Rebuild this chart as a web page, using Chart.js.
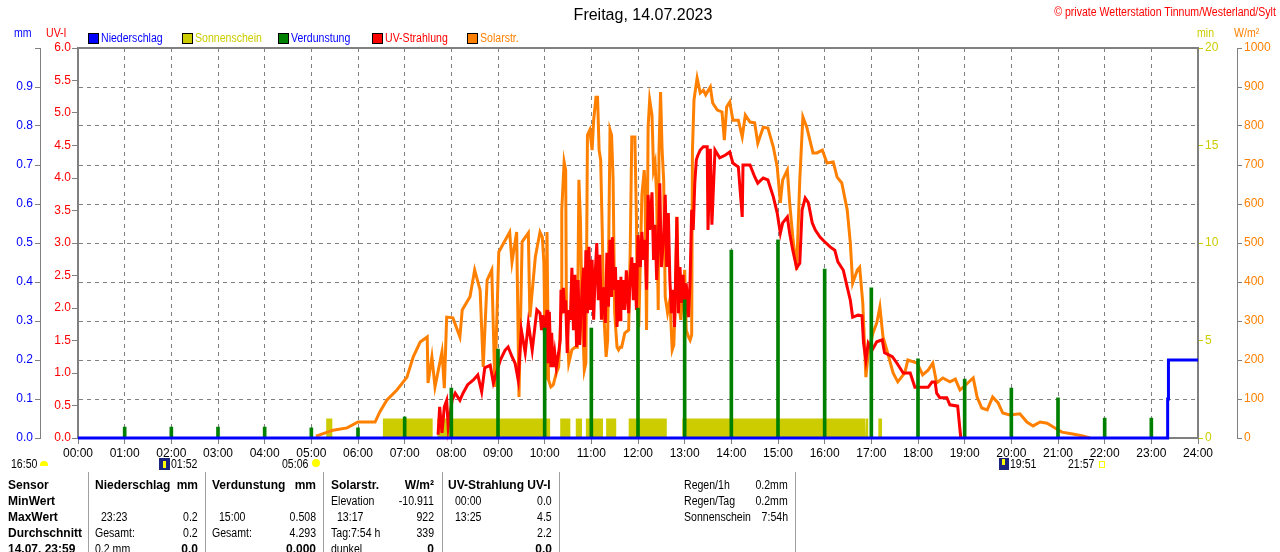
<!DOCTYPE html>
<html>
<head>
<meta charset="utf-8">
<script src="https://cdn.jsdelivr.net/npm/chart.js@4.4.0/dist/chart.umd.min.js"></script>
<style>
  html, body { margin: 0; padding: 0; background: #fff; }
  body { width: 1280px; height: 552px; position: relative; overflow: hidden;
         font-family: "Liberation Sans Narrow", "Arial Narrow", "Liberation Sans", Arial, sans-serif; }
  #c { position: absolute; left: 0; top: 0; }
  .t { position: absolute; white-space: nowrap; line-height: 1; font-size: 12px; }
</style>
</head>
<body>
<canvas id="c" width="1280" height="552"></canvas>
<div id="txt"></div>
<script>
// hour labels of the time axis
const hourLabels = ['00:00', '01:00', '02:00', '03:00', '04:00', '05:00', '06:00', '07:00', '08:00',
  '09:00', '10:00', '11:00', '12:00', '13:00', '14:00', '15:00', '16:00', '17:00', '18:00',
  '19:00', '20:00', '21:00', '22:00', '23:00', '24:00'];

// Solarstrahlung, minute of day -> W/m²
const solarMin = [306, 328, 346, 360, 382, 388, 397, 410, 423, 431,
  440, 449, 450, 455, 459, 468, 471, 474, 482, 491,
  494, 504, 510, 517, 521, 526, 532, 536, 541, 555,
  558, 564, 567, 571, 579, 581, 588,
  594, 597, 599, 601, 603, 605, 608, 611, 615, 618,
  621, 622, 625, 627, 628, 631, 635, 639, 642, 644,
  646, 648, 651, 653, 655, 658, 661, 663, 666, 668,
  670, 672, 674, 676, 679, 681, 684, 686, 688, 690,
  693, 695, 697, 699, 703, 708, 710, 712, 716, 718,
  719, 721, 725, 728, 729, 731, 733, 735, 738, 740,
  742, 744, 746, 747, 749, 751, 753, 755, 758, 761,
  764, 766, 768, 770, 772, 775, 778, 780, 782, 785,
  787, 789, 790, 792, 796, 800,
  804, 807, 813, 816, 822, 828, 831,
  834, 838, 842, 849, 854, 858, 864, 870, 874, 881,
  887, 894, 899, 903, 906, 912, 915, 919, 924, 928,
  932, 937, 941, 945, 950, 957, 963, 971, 976, 982,
  989, 993, 996, 1002, 1005, 1009, 1013, 1016, 1022, 1027,
  1031, 1035, 1041, 1048, 1054, 1063, 1067, 1079, 1086, 1093,
  1099, 1104, 1112, 1121, 1128, 1134, 1144, 1151, 1156, 1162,
  1169, 1176, 1183, 1189, 1198, 1211, 1220, 1228, 1237, 1246,
  1254, 1265, 1279, 1292, 1301];
const solarWm2 = [5, 20, 26, 41, 41, 67, 97, 123, 156, 208,
  246, 259, 141, 208, 131, 221, 128, 310, 308, 259,
  328, 362, 431, 379, 182, 405, 431, 131, 477, 528,
  451, 528, 105, 503, 526, 310, 464,
  528, 515, 449, 149, 528, 149, 131, 136, 167, 182,
  321, 585, 708, 687, 321, 192, 226, 233, 233, 662,
  559, 328, 174, 192, 777, 790, 738, 815, 874, 874,
  738, 713, 533, 321, 208, 251, 790, 777, 662, 321,
  233, 226, 233, 233, 269, 277, 482, 772, 772, 559,
  336, 285, 623, 687, 649, 277, 797, 867, 828, 687,
  705, 618, 328, 738, 887, 738, 662, 362, 321, 354,
  226, 238, 354, 567, 354, 303, 379, 431, 277, 259,
  251, 264, 738, 867, 923, 885,
  892, 880, 900, 859, 841, 836, 764,
  849, 862, 815, 815, 772, 828, 810, 808, 756, 797,
  795, 746, 695, 603, 662, 687, 603, 515, 431, 662,
  823, 797, 764, 731, 731, 738, 705, 708, 669, 654,
  585, 500, 397, 431, 438, 346, 156, 218, 269, 295,
  336, 259, 218, 167, 144, 167, 200, 192, 162, 174,
  192, 141, 154, 144, 151, 123, 141, 154, 105, 77,
  72, 105, 90, 64, 59, 62, 41, 31, 41, 38,
  28, 15, 10, 5, 0];

// UV-Strahlung, minute of day -> UV-I
const uvMin = [463, 465, 468, 471, 474, 476, 481, 485, 491, 495,
  501, 508, 514, 519, 523, 530, 534, 543, 549, 553,
  558, 562, 566, 570, 575, 579, 584, 590,
  594, 596, 598, 600, 603, 604, 606, 608, 609, 611,
  613, 615, 618, 620, 621, 623, 624, 626, 627, 629,
  631, 633, 635, 637, 639, 641, 643, 645, 648, 650,
  651, 653, 655, 657, 659, 661, 663, 665, 667, 669,
  671, 673, 675, 678, 680, 682, 684, 686, 687, 689,
  691, 693, 695, 697,
  698, 699, 701, 703, 705, 708, 710, 712, 714, 716,
  718, 720, 723, 725, 727, 729, 731, 733, 735, 738,
  740, 742, 744, 746, 748, 750, 753, 755, 757, 759,
  761, 763, 765, 767, 770, 772, 774, 776, 778, 780,
  782, 785, 787, 789, 791, 793, 795, 797, 800,
  804, 809, 810, 813, 815, 819, 825, 832,
  838, 842, 849, 854, 855, 864, 870, 874, 881, 887,
  894, 899, 903, 906, 912, 915, 919, 924, 928, 931,
  935, 939, 944, 948, 954, 960, 967, 973, 977, 984,
  989, 993, 996, 1003, 1008, 1010, 1013, 1016, 1021, 1027,
  1034, 1037, 1047, 1053, 1061, 1070, 1076, 1093, 1098, 1102,
  1104, 1108, 1117, 1121, 1131, 1135];
const uvIndex = [0.05, 0.48, 0.08, 0.48, 0.58, 0.17, 0.58, 0.69, 0.58, 0.69,
  0.82, 0.89, 0.97, 0.71, 1.08, 1.12, 0.85, 1.2, 1.35, 1.4,
  1.25, 1.15, 0.89, 1.66, 1.31, 1.77, 1.35, 1.97,
  1.92, 1.66, 1.89, 1.55, 1.97, 1.15, 1.94, 1.09, 1.62, 1.09,
  1.31, 1.09, 1.31, 1.51, 2.28, 1.92, 2.31, 1.92, 2.12, 1.31,
  1.97, 1.82, 2.62, 1.66, 2.51, 1.4, 2.43, 1.43, 2.28, 2.62,
  1.4, 2.89, 1.92, 2.94, 1.97, 2.74, 1.82, 2.54, 3.0, 2.12,
  2.82, 1.82, 2.32, 1.77, 2.85, 2.02, 3.05, 2.17, 3.09, 2.28,
  2.63, 1.71, 2.43, 1.82,
  2.48, 1.97, 2.43, 1.97, 2.58, 1.92, 2.51, 2.78, 2.12, 2.69,
  1.97, 3.12, 2.63, 3.17, 2.74, 3.05, 2.28, 3.74, 3.2, 3.78,
  2.74, 3.28, 2.43, 2.97, 3.92, 2.63, 3.09, 3.74, 2.63, 3.46,
  2.43, 1.92, 2.28, 1.71, 3.4, 1.92, 2.63, 2.08, 2.51, 1.82,
  2.38, 1.86, 2.43, 3.51, 3.2, 3.92, 4.28, 4.35, 4.43,
  4.48, 4.48, 3.2, 4.45, 3.28, 4.43, 4.31, 4.35,
  4.4, 4.23, 4.17, 3.4, 4.2, 4.2, 4.02, 3.92, 4.0, 3.97,
  3.71, 3.46, 3.15, 3.31, 3.4, 3.15, 2.89, 2.62, 2.69, 3.51,
  3.69, 3.62, 3.31, 3.2, 3.09, 3.02, 2.94, 2.89, 2.71, 2.58,
  2.32, 2.12, 1.86, 1.89, 1.88, 1.46, 1.2, 1.46, 1.35, 1.48,
  1.51, 1.31, 1.25, 1.15, 1.0, 1.0, 0.78, 0.78, 0.86, 0.86,
  0.69, 0.62, 0.62, 0.51, 0.49, 0];

// Verdunstung per hour (mm)
const evapHour = [1, 2, 3, 4, 5, 6, 7, 8, 9, 10, 11, 12, 13, 14, 15, 16, 17, 18, 19, 20, 21, 22, 23];
const evapMm = [0.028, 0.028, 0.028, 0.028, 0.026, 0.026, 0.054, 0.128, 0.228, 0.282, 0.282, 0.333,
  0.354, 0.482, 0.508, 0.433, 0.385, 0.203, 0.151, 0.128, 0.103, 0.051, 0.051];

// Niederschlag (cumulated mm)
const rainMin = [0, 1401, 1402, 1440];
const rainMm = [0, 0.1, 0.2, 0.2];

// Sonnenschein periods (minute of day), 1 min per minute
const sunStart = [319, 392, 462, 620, 640, 653, 679, 708, 777, 1013, 1029];
const sunEnd = [327, 456, 607, 633, 648, 675, 692, 757, 1012, 1016, 1034];

const FONT = '"Liberation Sans Narrow", "Arial Narrow", "Liberation Sans", Arial, sans-serif';
const GRID = '#808080';
const YELLOW = '#cccc00';

const sunPoints = [];
sunStart.forEach((s, i) => {
  sunPoints.push({ x: s, y: 0 }, { x: s, y: 1 }, { x: sunEnd[i], y: 1 }, { x: sunEnd[i], y: 0 });
});

const zip = (xs, ys) => xs.map((x, i) => ({ x: x, y: ys[i] }));

// solid top frame line
const frame = {
  id: 'frame',
  beforeDatasetsDraw(chart) {
    const { ctx, chartArea } = chart;
    ctx.save();
    ctx.strokeStyle = GRID;
    ctx.lineWidth = 2;
    ctx.beginPath();
    ctx.moveTo(chartArea.left - 1, chartArea.top);
    ctx.lineTo(chartArea.right + 1, chartArea.top);
    ctx.stroke();
    ctx.restore();
  }
};

Chart.defaults.font.family = FONT;
Chart.defaults.font.size = 12;

new Chart(document.getElementById('c'), {
  type: 'line',
  data: {
    datasets: [
      {
        label: 'Sonnenschein',
        data: sunPoints,
        yAxisID: 'ySun',
        borderWidth: 0,
        borderColor: YELLOW,
        backgroundColor: YELLOW,
        fill: 'origin',
        pointRadius: 0,
        order: 5
      },
      {
        label: 'Solarstr.',
        data: zip(solarMin, solarWm2),
        yAxisID: 'yW',
        borderColor: '#ff8000',
        borderWidth: 3,
        pointRadius: 0,
        tension: 0,
        clip: 4,
        order: 4
      },
      {
        label: 'UV-Strahlung',
        data: zip(uvMin, uvIndex),
        yAxisID: 'yUv',
        borderColor: '#ff0000',
        borderWidth: 3,
        pointRadius: 0,
        tension: 0,
        clip: 4,
        order: 3
      },
      {
        type: 'bar',
        label: 'Verdunstung',
        data: zip(evapHour.map(h => h * 60), evapMm),
        yAxisID: 'yMm',
        backgroundColor: '#008000',
        barThickness: 3,
        order: 2
      },
      {
        label: 'Niederschlag',
        data: zip(rainMin, rainMm),
        yAxisID: 'yMm',
        borderColor: '#0000ff',
        borderWidth: 3,
        stepped: 'before',
        pointRadius: 0,
        clip: 4,
        order: 1
      }
    ]
  },
  options: {
    responsive: false,
    animation: false,
    devicePixelRatio: 1,
    layout: { padding: { top: 48, bottom: 90, left: 0, right: 0 } },
    plugins: {
      legend: { display: false },
      tooltip: { enabled: false }
    },
    scales: {
      x: {
        type: 'linear',
        min: 0,
        max: 1440,
        offset: false,
        afterFit: s => { s.height = 24; },
        ticks: {
          stepSize: 60,
          autoSkip: false,
          maxRotation: 0,
          color: '#000',
          padding: 2,
          callback: v => hourLabels[v / 60]
        },
        grid: {
          offset: false,
          color: GRID,
          tickColor: GRID,
          tickLength: 6
        },
        border: { color: GRID, width: 2, dash: [4, 4] }
      },
      yMm: {
        position: 'left',
        weight: 1,
        min: 0,
        max: 1,
        afterFit: s => { s.width = 40; },
        ticks: {
          stepSize: 0.1,
          color: '#0000ff',
          padding: 2,
          callback: v => (v > 0.95 ? '' : v.toFixed(1))
        },
        grid: {
          color: GRID,
          tickColor: GRID,
          tickLength: 5
        },
        border: { color: GRID, width: 1, dash: [4, 4] }
      },
      yUv: {
        position: 'left',
        weight: 0,
        min: 0,
        max: 6,
        afterFit: s => { s.width = 38; },
        ticks: {
          stepSize: 0.5,
          color: '#ff0000',
          padding: 1,
          callback: v => v.toFixed(1)
        },
        grid: { drawOnChartArea: false, tickColor: GRID, tickLength: 6 },
        border: { color: GRID, width: 2 }
      },
      ySun: {
        position: 'right',
        weight: 0,
        min: 0,
        max: 20,
        afterFit: s => { s.width = 39; },
        ticks: { stepSize: 5, color: YELLOW, padding: 2, callback: v => String(v) },
        grid: { drawOnChartArea: false, tickColor: YELLOW, tickLength: 5 },
        border: { color: GRID, width: 2 }
      },
      yW: {
        position: 'right',
        weight: 1,
        min: 0,
        max: 1000,
        afterFit: s => { s.width = 43; },
        ticks: { stepSize: 100, color: '#ff8000', padding: 2, callback: v => String(v) },
        grid: { drawOnChartArea: false, tickColor: GRID, tickLength: 5 },
        border: { color: GRID, width: 1 }
      }
    }
  },
  plugins: [frame]
});

// ---- texts around the plot ----
const txt = document.getElementById('txt');
function place(text, x, y, opt) {
  opt = opt || {};
  const d = document.createElement('div');
  d.className = 't';
  d.textContent = text;
  const size = opt.size || 12;
  d.style.fontSize = size + 'px';
  d.style.top = (y - size / 2) + 'px';
  const sx = opt.bold || opt.size ? '' : ' scaleX(0.88)';
  if (opt.align === 'right') {
    d.style.right = (1280 - x) + 'px';
    d.style.transformOrigin = 'right center';
    d.style.transform = sx;
  } else if (opt.align === 'center') {
    d.style.left = x + 'px';
    d.style.transform = 'translateX(-50%)' + sx;
  } else {
    d.style.left = x + 'px';
    d.style.transformOrigin = 'left center';
    d.style.transform = sx;
  }
  if (opt.color) d.style.color = opt.color;
  if (opt.bold) { d.style.fontWeight = 'bold'; d.style.fontFamily = '"Liberation Sans", Arial, sans-serif'; }
  txt.appendChild(d);
  return d;
}
function block(x, y, w, h, css) {
  const d = document.createElement('div');
  d.style.position = 'absolute';
  d.style.left = x + 'px';
  d.style.top = y + 'px';
  d.style.width = w + 'px';
  d.style.height = h + 'px';
  Object.assign(d.style, css || {});
  txt.appendChild(d);
  return d;
}

place('Freitag, 14.07.2023', 643, 15, { align: 'center', size: 16 });
place('© private Wetterstation Tinnum/Westerland/Sylt', 1276, 12, { align: 'right', color: '#ff0000' });

place('mm', 14, 33, { color: '#0000ff' });
place('UV-I', 46, 33, { color: '#ff0000' });
place('min', 1197, 33, { color: YELLOW });
place('W/m²', 1234, 33, { color: '#ff8000' });

const legendItems = [
  [88, 'Niederschlag', '#0000ff', '#0000ff'],
  [182, 'Sonnenschein', YELLOW, YELLOW],
  [278, 'Verdunstung', '#008000', '#0000ff'],
  [372, 'UV-Strahlung', '#ff0000', '#ff0000'],
  [467, 'Solarstr.', '#ff8000', '#ff8000']
];
legendItems.forEach(([x, label, box, col]) => {
  block(x, 33, 9, 9, { background: box, border: '1px solid #000' });
  place(label, x + 13, 38, { color: col });
});

// sun / moon times
place('16:50', 11, 464);
block(40, 461, 8, 5, { background: '#ffff00', borderRadius: '4px 4px 0 0' });
block(159, 458, 11, 12, { background: '#1a237e' });
block(163, 461, 3, 7, { background: '#ffff00' });
place('01:52', 171, 464);
place('05:06', 282, 464);
block(312, 459, 8, 8, { background: '#ffff00', borderRadius: '50%' });
block(999, 458, 10, 12, { background: '#1a237e' });
block(1002, 459, 3, 6, { background: '#ffff00' });
place('19:51', 1010, 464);
place('21:57', 1068, 464);
block(1099, 461, 4, 5, { border: '1px solid #ffff00' });

// table
[88, 205, 323, 442, 559, 795].forEach(x => block(x, 472, 1, 80, { background: '#a0a0a0' }));
const rowY = [485, 501, 517, 533, 549];
['Sensor', 'MinWert', 'MaxWert', 'Durchschnitt', '14.07. 23:59'].forEach((s, i) => place(s, 8, rowY[i], { bold: true }));

place('Niederschlag', 95, rowY[0], { bold: true });
place('mm', 198, rowY[0], { bold: true, align: 'right' });
place('23:23', 101, rowY[2]);
place('0.2', 198, rowY[2], { align: 'right' });
place('Gesamt:', 95, rowY[3]);
place('0.2', 198, rowY[3], { align: 'right' });
place('0.2 mm', 95, rowY[4]);
place('0.0', 198, rowY[4], { bold: true, align: 'right' });

place('Verdunstung', 212, rowY[0], { bold: true });
place('mm', 316, rowY[0], { bold: true, align: 'right' });
place('15:00', 219, rowY[2]);
place('0.508', 316, rowY[2], { align: 'right' });
place('Gesamt:', 212, rowY[3]);
place('4.293', 316, rowY[3], { align: 'right' });
place('0.000', 316, rowY[4], { bold: true, align: 'right' });

place('Solarstr.', 331, rowY[0], { bold: true });
place('W/m²', 434, rowY[0], { bold: true, align: 'right' });
place('Elevation', 331, rowY[1]);
place('-10.911', 434, rowY[1], { align: 'right' });
place('13:17', 337, rowY[2]);
place('922', 434, rowY[2], { align: 'right' });
place('Tag:7:54 h', 331, rowY[3]);
place('339', 434, rowY[3], { align: 'right' });
place('dunkel', 331, rowY[4]);
place('0', 434, rowY[4], { bold: true, align: 'right' });

place('UV-Strahlung UV-I', 448, rowY[0], { bold: true });
place('00:00', 455, rowY[1]);
place('0.0', 552, rowY[1], { align: 'right' });
place('13:25', 455, rowY[2]);
place('4.5', 552, rowY[2], { align: 'right' });
place('2.2', 552, rowY[3], { align: 'right' });
place('0.0', 552, rowY[4], { bold: true, align: 'right' });

place('Regen/1h', 684, rowY[0]);
place('0.2mm', 788, rowY[0], { align: 'right' });
place('Regen/Tag', 684, rowY[1]);
place('0.2mm', 788, rowY[1], { align: 'right' });
place('Sonnenschein', 684, rowY[2]);
place('7:54h', 788, rowY[2], { align: 'right' });
</script>
</body>
</html>
